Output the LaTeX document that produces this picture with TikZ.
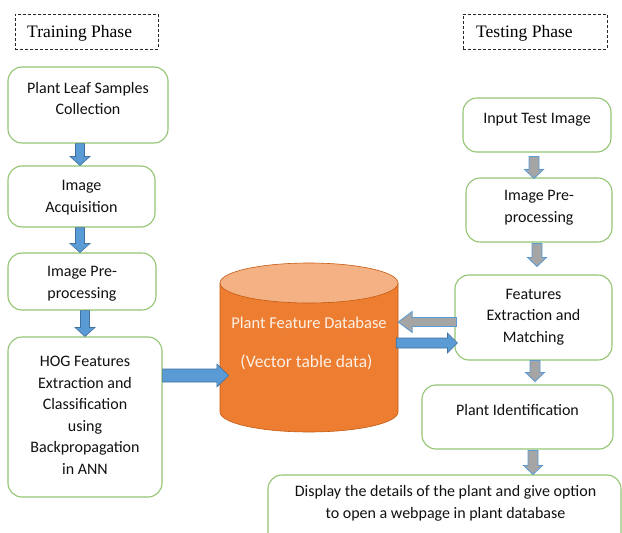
\documentclass[tikz,border=0pt]{standalone}
\usepackage{fontspec}
\setmainfont{Carlito}
\newfontfamily\serifphase{Liberation Serif}
\usetikzlibrary{calc}
\definecolor{boxgreen}{HTML}{93C572}
\definecolor{arrblue}{HTML}{5B9BD5}
\definecolor{arrblueedge}{HTML}{41719C}
\definecolor{arrgrey}{HTML}{A5A5A5}
\definecolor{dborange}{HTML}{ED7D31}
\definecolor{dbtop}{HTML}{F4B183}
\definecolor{dbedge}{HTML}{C55A11}
\definecolor{dbtext}{HTML}{FDF0E6}
\definecolor{txtdark}{HTML}{111111}
% vertical block arrow: style, x, from, to, shaft half width, head half width, head length
\newcommand\blkdown[7]{\path[#1] let \p1=(#3), \p2=(#4) in
  (#2pt-#5,\y1) -- (#2pt+#5,\y1) -- (#2pt+#5,\y2+#7) -- (#2pt+#6,\y2+#7) -- (#2pt,\y2)
  -- (#2pt-#6,\y2+#7) -- (#2pt-#5,\y2+#7) -- cycle;}
% horizontal block arrow pointing right: style, y (px), from, to, sw, hw, hl
\newcommand\blkright[7]{\path[#1] let \p1=(#3), \p2=(#4) in
  (\x1,-#2pt+#5) -- (\x2-#7,-#2pt+#5) -- (\x2-#7,-#2pt+#6) -- (\x2,-#2pt)
  -- (\x2-#7,-#2pt-#6) -- (\x2-#7,-#2pt-#5) -- (\x1,-#2pt-#5) -- cycle;}
% horizontal block arrow pointing left
\newcommand\blkleft[7]{\path[#1] let \p1=(#3), \p2=(#4) in
  (\x1,-#2pt+#5) -- (\x2+#7,-#2pt+#5) -- (\x2+#7,-#2pt+#6) -- (\x2,-#2pt)
  -- (\x2+#7,-#2pt-#6) -- (\x2+#7,-#2pt-#5) -- (\x1,-#2pt-#5) -- cycle;}
\begin{document}
\begin{tikzpicture}[x=1pt,y=-1pt,
  box/.style={draw=boxgreen, line width=1.1pt, rounded corners=14pt, fill=white, inner sep=0pt},
  txt/.style={align=center, text=txtdark, font=\fontsize{16}{21.5}\selectfont, inner sep=0pt},
  phasebox/.style={draw=black!85, line width=0.8pt, dash pattern=on 3pt off 2pt, inner sep=0pt},
  phasetxt/.style={anchor=base west, text=black, font=\serifphase\fontsize{17.5}{20}\selectfont, inner sep=0pt},
  bluearrow/.style={fill=arrblue, draw=arrblueedge, line width=0.6pt},
  greyarrow/.style={fill=arrgrey, draw=arrblue, line width=0.8pt},
  dbtxt/.style={text=dbtext, font=\fontsize{16.5}{20}\selectfont, inner sep=0pt}]
\useasboundingbox (0,0) rectangle (622,533);
\clip (0,0) rectangle (622,533);
\fill[white] (0,0) rectangle (622,533);

% phase labels
\node[phasebox, minimum width=143pt, minimum height=35pt] (train) at (86.5,31.5) {};
\node[phasetxt] (train-t) at (27,37) {Training Phase};
\node[phasebox, minimum width=144pt, minimum height=35pt] (test) at (535,31.5) {};
\node[phasetxt] (test-t) at (476,37) {Testing Phase};

% training boxes
\node[box, minimum width=160pt, minimum height=76pt] (leaf) at (88,105) {};
\node[txt] (leaf-t) at (88,98.5) {Plant Leaf Samples\\Collection};
\node[box, minimum width=147pt, minimum height=61pt] (acq) at (81.5,196.5) {};
\node[txt] (acq-t) at (81.5,197.5) {Image\\Acquisition};
\node[box, minimum width=148pt, minimum height=57pt] (pre) at (82,281.5) {};
\node[txt] (pre-t) at (82,283.5) {Image Pre-\\processing};
\node[box, minimum width=154pt, minimum height=160pt] (hog) at (85,417) {};
\node[txt] (hog-t) at (85,415.5) {HOG Features\\Extraction and\\Classification\\using\\Backpropagation\\in ANN};

% database cylinder
\node[minimum width=178pt, minimum height=169pt, inner sep=0pt] (db) at (309,347.5) {};
\path[fill=dborange, draw=dbedge, line width=0.6pt]
  (220,283) -- (220,412) arc[start angle=180, end angle=0, x radius=89, y radius=20] -- (398,283) -- cycle;
\path[fill=dbtop, draw=dbedge, line width=0.6pt] (309,283) ellipse [x radius=89, y radius=20];
\node[dbtxt] (db-t1) at (309,322.5) {Plant Feature Database};
\node[dbtxt, font=\fontsize{17.5}{20}\selectfont] (db-t2) at (306.5,362.5) {(Vector table data)};

% testing boxes
\node[box, minimum width=148pt, minimum height=54pt] (inp) at (537,125) {};
\node[txt] (inp-t) at (537,119.5) {Input Test Image};
\node[box, minimum width=146pt, minimum height=64pt] (pre2) at (539,210) {};
\node[txt] (pre2-t) at (539,207.5) {Image Pre-\\processing};
\node[box, minimum width=157pt, minimum height=85pt] (feat) at (533.5,317.5) {};
\node[txt] (feat-t) at (533.5,317) {Features\\Extraction and\\Matching};
\node[box, minimum width=191pt, minimum height=64pt] (ident) at (517.5,417) {};
\node[txt] (ident-t) at (517.5,410.5) {Plant Identification};
\node[box, minimum width=353pt, minimum height=80pt] (disp) at (444.5,515) {};
\node[txt] (disp-t) at (445.5,503.5) {Display the details of the plant and give option\\to open a webpage in plant database};

% training arrows
\blkdown{bluearrow}{80}{leaf.south}{acq.north}{4.5pt}{10pt}{9pt}
\blkdown{bluearrow}{80}{acq.south}{pre.north}{4.5pt}{10pt}{9pt}
\blkdown{bluearrow}{85}{pre.south}{hog.north}{4.5pt}{10pt}{9pt}
\blkright{bluearrow}{375.5}{hog.east}{$(db.west)+(9,0)$}{6.5pt}{11.5pt}{12pt}

% testing arrows
\blkdown{greyarrow}{534}{$(inp.south)+(0,4)$}{$(pre2.north)+(0,1)$}{5pt}{9.5pt}{9pt}
\blkdown{greyarrow}{537}{$(pre2.south)+(0,1)$}{$(feat.north)+(0,-8)$}{5pt}{9.5pt}{9pt}
\blkdown{greyarrow}{535}{feat.south}{$(ident.north)+(0,-3)$}{5pt}{9.5pt}{9pt}
\blkdown{greyarrow}{533}{$(ident.south)+(0,1)$}{disp.north}{5pt}{9.5pt}{9pt}
\blkleft{greyarrow}{322}{$(feat.west)+(2,0)$}{db.east}{4.5pt}{10.5pt}{14pt}
\blkright{bluearrow}{343}{$(db.east)+(-2,0)$}{$(feat.west)+(3,0)$}{5pt}{10pt}{10pt}
\end{tikzpicture}
\end{document}
